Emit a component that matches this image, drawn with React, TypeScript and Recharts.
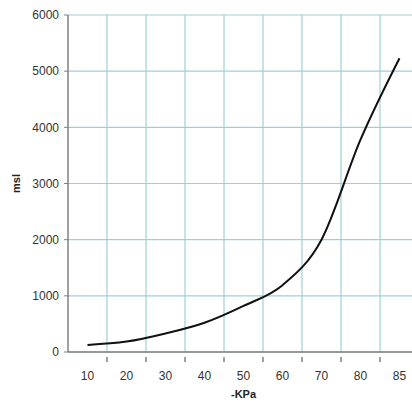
import { LineChart, Line, XAxis, YAxis, CartesianGrid } from 'recharts'

const kpa = ['10', '20', '30', '40', '50', '60', '70', '80', '85']
const msl = [125, 185, 330, 520, 820, 1190, 2000, 3780, 5230]
const yTicks = [0, 1000, 2000, 3000, 4000, 5000, 6000]

const data = kpa.map((k, i) => ({ kpa: k, msl: msl[i] }))

const font = '"Liberation Sans", Arial, sans-serif'
const W = 428
const H = 402
const M = { top: 15, right: 9, left: 8, bottom: 0 }
const Y_W = 60
const halfBand = (W - M.left - M.right - Y_W) / kpa.length / 2

// Excel style: vertical grid lines sit on the category boundaries, not the centres
const boundaryLines = ({ offset }: any) => {
  const step = offset.width / kpa.length
  return kpa.slice(1).map((_, i) => offset.left + step * (i + 1))
}

const XTick = ({ x, y, payload, index }: any) => (
  <g>
    {index > 0 && (
      <line x1={x - halfBand} x2={x - halfBand} y1={y - 14} y2={y - 9} stroke="#808080" strokeWidth={1.5} />
    )}
    <text x={x} y={y} dy="0.71em" textAnchor="middle" fill="#333" fontSize={12} fontFamily={font}>
      {payload.value}
    </text>
  </g>
)

export default function App() {
  return (
    <div style={{ width: 412, height: H, overflow: 'hidden' }}>
      <style>{'body{margin:0}'}</style>
      <LineChart width={W} height={H} data={data} margin={M}>
        <CartesianGrid
          stroke="#9fd0d5"
          strokeWidth={1.2}
          verticalCoordinatesGenerator={boundaryLines}
        />
        <XAxis
          dataKey="kpa"
          scale="band"
          height={50}
          axisLine={{ stroke: '#808080', strokeWidth: 1.5 }}
          tickLine={false}
          tickMargin={13}
          tick={<XTick />}
          label={{ value: '-KPa', position: 'insideBottom', offset: 4, fill: '#222', fontSize: 11, fontWeight: 'bold', fontFamily: font }}
        />
        <YAxis
          width={Y_W}
          domain={[0, 6000]}
          ticks={yTicks}
          interval={0}
          axisLine={{ stroke: '#808080', strokeWidth: 1.5 }}
          tickLine={{ stroke: '#808080' }}
          tickSize={4}
          tickMargin={5}
          tick={{ fill: '#333', fontSize: 12, fontFamily: font }}
          label={{ value: 'msl', angle: -90, position: 'insideLeft', offset: 8, fill: '#222', fontSize: 11, fontWeight: 'bold', fontFamily: font, style: { textAnchor: 'middle' } }}
        />
        <Line
          type="monotone"
          dataKey="msl"
          stroke="#111"
          strokeWidth={2}
          dot={false}
          isAnimationActive={false}
        />
      </LineChart>
    </div>
  )
}
